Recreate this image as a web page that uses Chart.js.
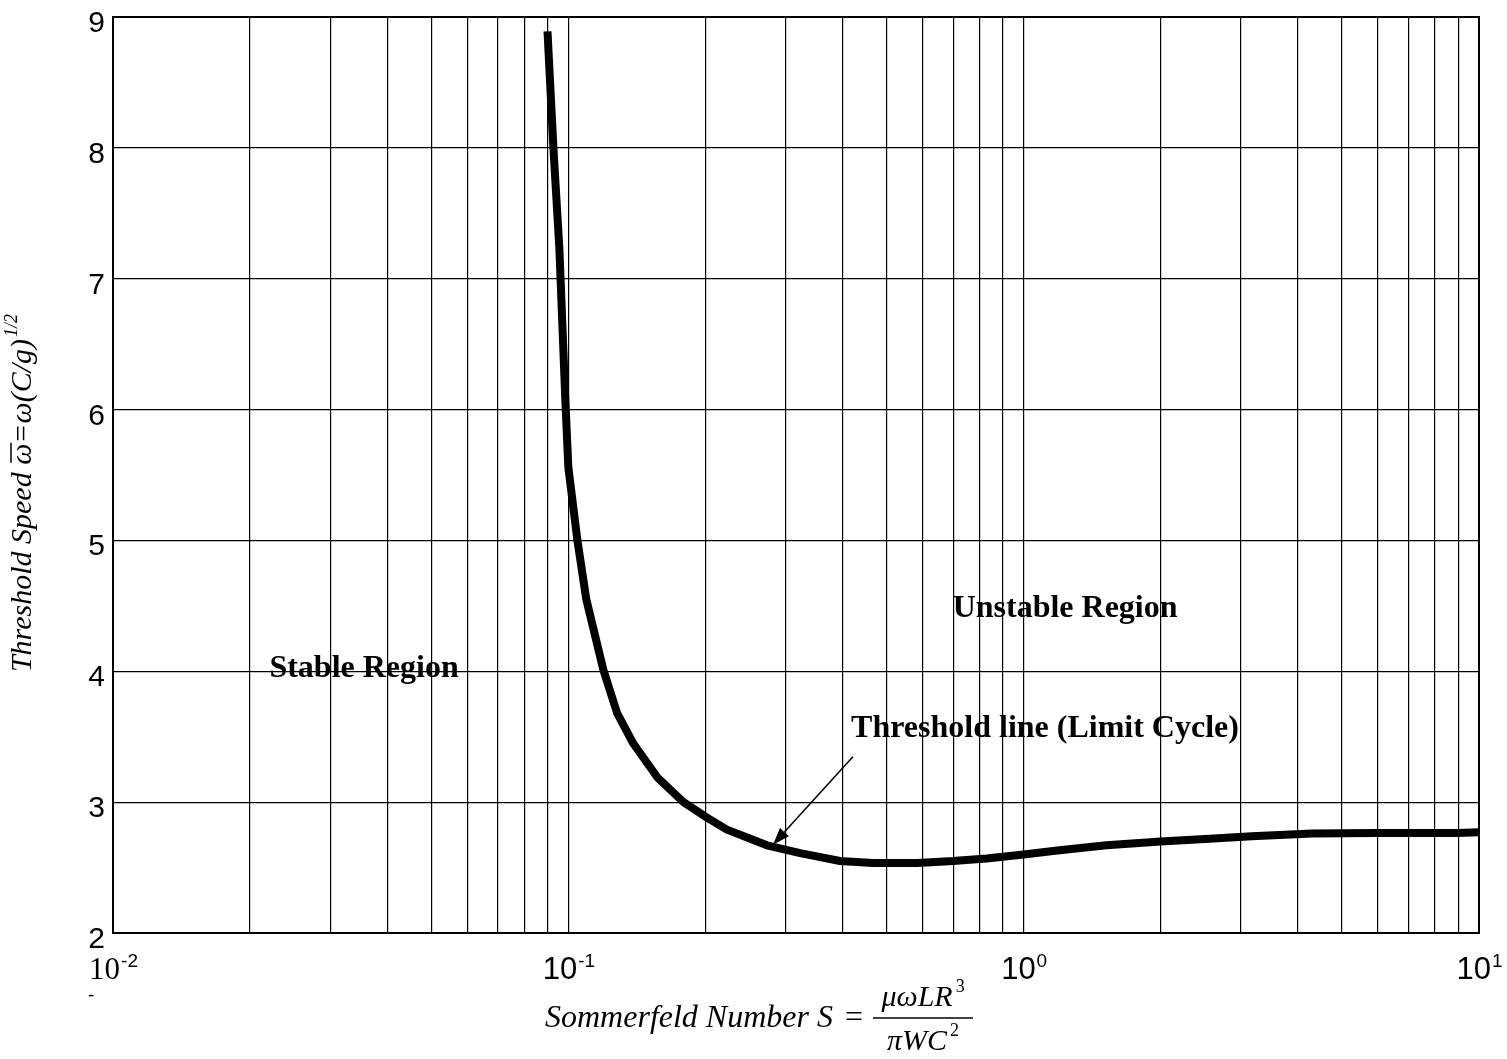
<!DOCTYPE html>
<html lang="en">
<head>
<meta charset="UTF-8">
<title>Threshold Speed vs Sommerfeld Number</title>
<script src="https://cdn.jsdelivr.net/npm/chart.js"></script>
<style>
  body { margin: 0; background: #fff; }
  canvas { display: block; }
</style>
</head>
<body>
<canvas id="myChart" width="1507" height="1059"></canvas>
<script>
// values
const sommerfeld = [0.090, 0.0927, 0.0956, 0.0985, 0.100, 0.1047, 0.1095, 0.1194, 0.128, 0.1388,
                    0.1568, 0.179, 0.202, 0.223, 0.247, 0.273, 0.323, 0.395, 0.467, 0.584,
                    0.700, 0.829, 1.00, 1.185, 1.52, 2.00, 2.56, 3.17, 4.30, 5.93, 8.95, 10.0];
const thresholdSpeed = [8.89, 8.01, 7.22, 6.07, 5.56, 5.00, 4.55, 4.01, 3.68, 3.45,
                        3.19, 3.00, 2.88, 2.79, 2.73, 2.67, 2.61, 2.55, 2.535, 2.535,
                        2.55, 2.57, 2.60, 2.63, 2.67, 2.70, 2.72, 2.74, 2.76, 2.765, 2.765, 2.77];

const yTicks = [2, 3, 4, 5, 6, 7, 8, 9];
const decades = [-2, -1, 0, 1];
const multipliers = [1, 2, 3, 4, 5, 6, 7, 8, 9];

const xTicks = [];
decades.forEach(e => {
    if (e === 1) { xTicks.push(10); return; }
    multipliers.forEach(m => xTicks.push(+(m * Math.pow(10, e)).toPrecision(3)));
});

const serif = '"Liberation Serif", "Times New Roman", serif';
const sans = '"Liberation Sans", Arial, sans-serif';

// text labels, arrow, frame
const overlay = {
    id: 'overlay',
    afterDraw(chart) {
        const ctx = chart.ctx;
        const x = chart.scales.x, y = chart.scales.y;
        const area = chart.chartArea;
        ctx.save();
        ctx.fillStyle = '#000';
        ctx.strokeStyle = '#000';

        // frame
        ctx.lineWidth = 2;
        ctx.strokeRect(area.left, area.top, area.right - area.left, area.bottom - area.top);

        // y tick labels
        ctx.font = '30px ' + sans;
        ctx.textAlign = 'right';
        ctx.textBaseline = 'alphabetic';
        yTicks.forEach(v => ctx.fillText(String(v), area.left - 8, y.getPixelForValue(v) + 15));

        // x tick labels 10^n
        ctx.textAlign = 'left';
        decades.forEach(e => {
            const px = x.getPixelForValue(Math.pow(10, e));
            const baseFont = (e === -2 ? '31px ' + serif : '31px ' + sans);
            const supFont = '19px ' + sans;
            ctx.font = baseFont;
            const w1 = ctx.measureText('10').width;
            ctx.font = supFont;
            const w2 = ctx.measureText(String(e)).width;
            const x0 = px - (w1 + w2) / 2;
            ctx.font = baseFont;
            ctx.fillText('10', x0, area.bottom + 46);
            ctx.font = supFont;
            ctx.fillText(String(e), x0 + w1 + 1, area.bottom + 34);
            if (e === -2) ctx.fillText('-', x0 - 1, area.bottom + 68);
        });

        // y axis title (rotated)
        ctx.save();
        ctx.translate(31, 493);
        ctx.rotate(-Math.PI / 2);
        const fMain = 'italic 30px ' + serif;
        const fSup = 'italic 18px ' + serif;
        ctx.font = fMain;
        const p1 = 'Threshold Speed ', p2 = '\u03c9', p3 = '=\u03c9(C/g)';
        const w1 = ctx.measureText(p1).width, w2 = ctx.measureText(p2).width, w3 = ctx.measureText(p3).width;
        ctx.font = fSup;
        const w4 = ctx.measureText('1/2').width;
        let cx = -(w1 + w2 + w3 + w4 + 2) / 2;
        ctx.font = fMain;
        ctx.fillText(p1, cx, 0); cx += w1;
        ctx.fillText(p2, cx, 0);
        ctx.lineWidth = 1.5;
        ctx.beginPath(); ctx.moveTo(cx + 2, -20); ctx.lineTo(cx + w2 + 1, -20); ctx.stroke();
        cx += w2;
        ctx.fillText(p3, cx, 0); cx += w3 + 2;
        ctx.font = fSup;
        ctx.fillText('1/2', cx, -14);
        ctx.restore();

        // x axis title with fraction
        ctx.font = 'italic 32px ' + serif;
        let tx = 545;
        const tb = 1027;
        ctx.fillText('Sommerfeld Number S ', tx, tb);
        tx += ctx.measureText('Sommerfeld Number S ').width + 4;
        ctx.font = '32px ' + serif;
        ctx.fillText('=', tx, tb);
        tx += ctx.measureText('= ').width + 2;
        const fracL = tx, fracR = tx + 100, fracC = (fracL + fracR) / 2;
        ctx.lineWidth = 1.5;
        ctx.beginPath(); ctx.moveTo(fracL, 1018); ctx.lineTo(fracR, 1018); ctx.stroke();
        const drawFrac = (main, sup, base) => {
            ctx.font = 'italic 30px ' + serif;
            const a = ctx.measureText(main).width;
            ctx.font = '18px ' + serif;
            const b = ctx.measureText(sup).width;
            const s = fracC - (a + b + 3) / 2;
            ctx.font = 'italic 30px ' + serif;
            ctx.fillText(main, s, base);
            ctx.font = '18px ' + serif;
            ctx.fillText(sup, s + a + 3, base - 14);
        };
        drawFrac('\u03bc\u03c9LR', '3', 1006);
        drawFrac('\u03c0WC', '2', 1050);

        // region annotations
        ctx.font = 'bold 32px ' + serif;
        ctx.textAlign = 'center';
        ctx.fillText('Stable Region', x.getPixelForValue(0.0356), y.getPixelForValue(3.96));
        ctx.fillText('Unstable Region', x.getPixelForValue(1.233), y.getPixelForValue(4.416));
        ctx.fillText('Threshold line (Limit Cycle)', x.getPixelForValue(1.114), y.getPixelForValue(3.50));

        // arrow to the curve
        const ax0 = x.getPixelForValue(0.4217), ay0 = y.getPixelForValue(3.347);
        const ax1 = x.getPixelForValue(0.2815), ay1 = y.getPixelForValue(2.675);
        const ang = Math.atan2(ay1 - ay0, ax1 - ax0);
        const hl = 17, hw = 6;
        ctx.lineWidth = 1.5;
        ctx.beginPath(); ctx.moveTo(ax0, ay0);
        ctx.lineTo(ax1 - Math.cos(ang) * hl, ay1 - Math.sin(ang) * hl); ctx.stroke();
        ctx.beginPath();
        ctx.moveTo(ax1, ay1);
        ctx.lineTo(ax1 - Math.cos(ang) * hl - Math.sin(ang) * hw, ay1 - Math.sin(ang) * hl + Math.cos(ang) * hw);
        ctx.lineTo(ax1 - Math.cos(ang) * hl + Math.sin(ang) * hw, ay1 - Math.sin(ang) * hl - Math.cos(ang) * hw);
        ctx.closePath(); ctx.fill();

        ctx.restore();
    }
};

new Chart(document.getElementById('myChart'), {
    type: 'line',
    data: {
        datasets: [{
            data: sommerfeld.map((s, i) => ({x: s, y: thresholdSpeed[i]})),
            borderColor: '#000',
            borderWidth: 8,
            borderCapStyle: 'butt',
            borderJoinStyle: 'round',
            pointRadius: 0,
            tension: 0,
            fill: false
        }]
    },
    options: {
        responsive: false,
        animation: false,
        events: [],
        layout: {padding: {top: 17, right: 28, left: 0, bottom: 0}},
        plugins: {legend: {display: false}, tooltip: {enabled: false}},
        scales: {
            x: {
                type: 'logarithmic',
                min: 0.01,
                max: 10,
                afterBuildTicks: s => { s.ticks = xTicks.map(v => ({value: v})); },
                afterFit: s => { s.height = 126; },
                ticks: {display: false},
                grid: {color: '#000', lineWidth: 1.2, drawTicks: false},
                border: {display: false}
            },
            y: {
                type: 'linear',
                min: 2,
                max: 9,
                afterBuildTicks: s => { s.ticks = yTicks.map(v => ({value: v})); },
                afterFit: s => { s.width = 113; },
                ticks: {display: false},
                grid: {color: '#000', lineWidth: 1.2, drawTicks: false},
                border: {display: false}
            }
        }
    },
    plugins: [overlay]
});
</script>
</body>
</html>
